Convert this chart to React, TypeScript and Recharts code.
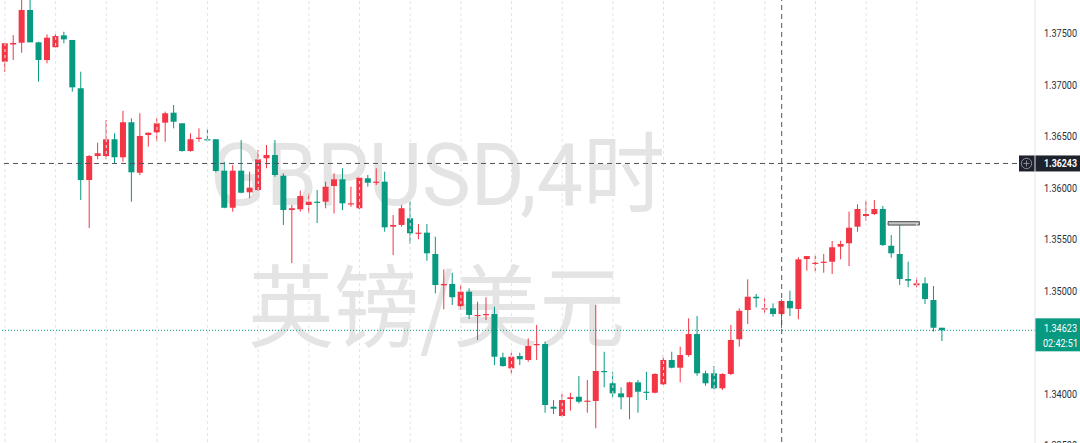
import React from 'react';
import { ComposedChart, Bar, XAxis, YAxis, ReferenceLine, ReferenceArea } from 'recharts';

// 4h candles, GBPUSD
const opens = [
  1.37231, 1.37398, 1.37415, 1.37733, 1.37419, 1.37247, 1.37371, 1.37487, 1.37442, 1.36973,
  1.36082, 1.36315, 1.36315, 1.36478, 1.36303, 1.36643, 1.36153, 1.36519, 1.36545, 1.36639,
  1.36736, 1.36633, 1.36364, 1.36487, 1.36478, 1.36478, 1.36173, 1.35813, 1.36173, 1.35963,
  1.35985, 1.36293, 1.36325, 1.36124, 1.35791, 1.35798, 1.35840, 1.35872, 1.35872, 1.36024,
  1.36089, 1.35846, 1.35808, 1.36099, 1.36056, 1.36066, 1.35629, 1.35646, 1.35711, 1.35565,
  1.35571, 1.35364, 1.35060, 1.35073, 1.34859, 1.34998, 1.34765, 1.34772, 1.34781, 1.34361,
  1.34254, 1.34374, 1.34335, 1.34483, 1.34490, 1.33881, 1.33791, 1.33956, 1.33978, 1.33930,
  1.33937, 1.34228, 1.34109, 1.34011, 1.33973, 1.34118, 1.34027, 1.34017, 1.34099, 1.34335,
  1.34260, 1.34383, 1.34587, 1.34206, 1.34206, 1.34060, 1.34199, 1.34536, 1.34820, 1.34949,
  1.34830, 1.34837, 1.34781, 1.34908, 1.34830, 1.35315, 1.35270, 1.35283, 1.35289, 1.35435,
  1.35468, 1.35629, 1.35733, 1.35752, 1.35801, 1.35444, 1.35364, 1.35121, 1.35060, 1.35079,
  1.34917, 1.34648,
];
const highs = [
  1.37415, 1.37490, 1.37859, 1.37879, 1.37425, 1.37497, 1.37497, 1.37522, 1.37442, 1.37134,
  1.36325, 1.36445, 1.36665, 1.36536, 1.36755, 1.36681, 1.36730, 1.36542, 1.36681, 1.36746,
  1.36811, 1.36633, 1.36536, 1.36584, 1.36584, 1.36478, 1.36260, 1.36228, 1.36471, 1.36163,
  1.36374, 1.36422, 1.36471, 1.36147, 1.35840, 1.35979, 1.35953, 1.35985, 1.36066, 1.36147,
  1.36196, 1.36017, 1.36121, 1.36131, 1.36196, 1.36163, 1.35743, 1.35840, 1.35872, 1.35655,
  1.35655, 1.35532, 1.35215, 1.35182, 1.35063, 1.35031, 1.34901, 1.34944, 1.34852, 1.34406,
  1.34406, 1.34406, 1.34545, 1.34675, 1.34512, 1.33946, 1.34005, 1.34017, 1.34179, 1.34141,
  1.34869, 1.34415, 1.34221, 1.34070, 1.34124, 1.34141, 1.34221, 1.34206, 1.34383, 1.34415,
  1.34464, 1.34740, 1.34762, 1.34231, 1.34277, 1.34206, 1.34675, 1.34837, 1.35118, 1.34976,
  1.34934, 1.34885, 1.34924, 1.35008, 1.35332, 1.35344, 1.35354, 1.35364, 1.35490, 1.35493,
  1.35775, 1.35846, 1.35881, 1.35888, 1.35830, 1.35548, 1.35646, 1.35289, 1.35138, 1.35138,
  1.35053, 1.34648,
];
const lows = [
  1.37134, 1.37247, 1.37318, 1.37419, 1.37037, 1.37215, 1.37371, 1.37410, 1.36940, 1.35888,
  1.35616, 1.36283, 1.36283, 1.36244, 1.36260, 1.35872, 1.36131, 1.36406, 1.36454, 1.36454,
  1.36584, 1.36357, 1.36357, 1.36454, 1.36454, 1.36157, 1.35808, 1.35775, 1.35953, 1.35905,
  1.35978, 1.36196, 1.36114, 1.35646, 1.35277, 1.35775, 1.35759, 1.35665, 1.35808, 1.35759,
  1.35791, 1.35823, 1.35798, 1.36017, 1.36034, 1.35580, 1.35354, 1.35629, 1.35461, 1.35507,
  1.35299, 1.34982, 1.34827, 1.34869, 1.34820, 1.34733, 1.34529, 1.34723, 1.34286, 1.34270,
  1.34199, 1.34286, 1.34318, 1.34335, 1.33823, 1.33810, 1.33784, 1.33843, 1.33914, 1.33823,
  1.33672, 1.34070, 1.33973, 1.33856, 1.33759, 1.33823, 1.33946, 1.34011, 1.34092, 1.34254,
  1.34118, 1.34367, 1.34182, 1.34085, 1.34050, 1.34044, 1.34189, 1.34464, 1.34684, 1.34846,
  1.34794, 1.34755, 1.34643, 1.34762, 1.34730, 1.35202, 1.35192, 1.35182, 1.35170, 1.35312,
  1.35247, 1.35580, 1.35687, 1.35743, 1.35442, 1.35328, 1.35063, 1.35041, 1.35041, 1.34878,
  1.34610, 1.34519,
];
const closes = [
  1.37410, 1.37413, 1.37733, 1.37419, 1.37247, 1.37464, 1.37480, 1.37448, 1.36982, 1.36082,
  1.36315, 1.36342, 1.36478, 1.36303, 1.36643, 1.36157, 1.36510, 1.36542, 1.36633, 1.36730,
  1.36648, 1.36364, 1.36478, 1.36493, 1.36471, 1.36170, 1.35813, 1.36173, 1.35959, 1.36008,
  1.36283, 1.36325, 1.36131, 1.35791, 1.35808, 1.35927, 1.35872, 1.35866, 1.36017, 1.36089,
  1.35856, 1.35856, 1.36105, 1.36056, 1.36066, 1.35623, 1.35646, 1.35808, 1.35565, 1.35571,
  1.35371, 1.35063, 1.35073, 1.34944, 1.34998, 1.34772, 1.34772, 1.34781, 1.34367, 1.34276,
  1.34367, 1.34342, 1.34471, 1.34490, 1.33898, 1.33862, 1.33946, 1.33973, 1.33930, 1.33940,
  1.34228, 1.34218, 1.34011, 1.33973, 1.34118, 1.34027, 1.34017, 1.34199, 1.34335, 1.34260,
  1.34383, 1.34587, 1.34206, 1.34109, 1.34060, 1.34199, 1.34529, 1.34813, 1.34949, 1.34934,
  1.34837, 1.34781, 1.34908, 1.34837, 1.35312, 1.35344, 1.35279, 1.35289, 1.35429, 1.35461,
  1.35619, 1.35801, 1.35752, 1.35801, 1.35451, 1.35371, 1.35121, 1.35105, 1.35079, 1.34927,
  1.34648, 1.34623,
];

// price ticks shown on the right scale (1.34500 is hidden behind the last-price tag)
const priceTicks = [1.335, 1.34, 1.35, 1.355, 1.36, 1.365, 1.37, 1.375];
const priceTickLabels = ['1.33500', '1.34000', '1.35000', '1.35500', '1.36000', '1.36500', '1.37000', '1.37500'];
const dayGridIndex = [0, 6, 12, 18, 24, 30, 36, 42, 48, 54, 60, 66, 72, 78, 84, 90, 96, 102, 108];
const crosshair = { index: 92, price: 1.36243, label: '1.36243' };
const lastPrice = { price: 1.34623, label: '1.34623', countdown: '02:42:51' };
const drawnBox = { x1: 104.6, x2: 108.3, y1: 1.35645, y2: 1.35678 };
const watermarkTitle = 'GBPUSD,4时';
const watermarkName = '英镑/美元';

const UP = '#F23645';
const DOWN = '#089981';

const data = opens.map((o, i) => ({
  i,
  open: o,
  high: highs[i],
  low: lows[i],
  close: closes[i],
  range: [lows[i], highs[i]],
}));

const Candle = (props: any) => {
  const { x, y, width, height, payload } = props;
  if (!payload) return null;
  const { open, close, high, low } = payload;
  const top = Math.min(y, y + height);
  const h = Math.abs(height);
  const span = high - low || 1e-9;
  const yOf = (v: number) => top + ((high - v) / span) * h;
  const cx = x + width / 2;
  const color = close >= open ? UP : DOWN;
  const bTop = yOf(Math.max(open, close));
  const bBot = yOf(Math.min(open, close));
  const bw = 6;
  return (
    <g>
      <rect x={cx - 0.5} y={top} width={1} height={Math.max(h, 1)} fill={color} />
      <rect x={cx - bw / 2} y={bTop} width={bw} height={Math.max(bBot - bTop, 1.2)} fill={color} />
    </g>
  );
};

const PriceTick = (props: any) => {
  const { x, y, payload } = props;
  const idx = priceTicks.findIndex((t) => Math.abs(t - payload.value) < 1e-7);
  const label = idx >= 0 ? priceTickLabels[idx] : String(payload.value);
  return (
    <text x={x + 1} y={y} dy="0.35em" textAnchor="start" fontSize={10} fill="#2a2e39"
      fontFamily="Roboto, 'Liberation Sans', sans-serif" textLength={33} lengthAdjust="spacingAndGlyphs">
      {label}
    </text>
  );
};

const CrossTag = (props: any) => {
  const vb = props.viewBox || {};
  const right = vb.x + vb.width;
  const y = vb.y;
  return (
    <g>
      <rect x={right - 16} y={y - 8} width={61} height={16} fill="#1e222d" />
      <circle cx={right - 8.5} cy={y} r={5.2} fill="none" stroke="#8c8f99" strokeWidth={1} />
      <line x1={right - 11.5} x2={right - 5.5} y1={y} y2={y} stroke="#8c8f99" strokeWidth={1} />
      <line x1={right - 8.5} x2={right - 8.5} y1={y - 3} y2={y + 3} stroke="#8c8f99" strokeWidth={1} />
      <text x={right + 9} y={y} dy="0.35em" fontSize={10} fontWeight={700} fill="#ffffff"
        fontFamily="Roboto, 'Liberation Sans', sans-serif" textLength={33} lengthAdjust="spacingAndGlyphs">
        {crosshair.label}
      </text>
    </g>
  );
};

const LastTag = (props: any) => {
  const vb = props.viewBox || {};
  const right = vb.x + vb.width;
  const y = vb.y;
  return (
    <g>
      <rect x={right} y={y - 12} width={45} height={33} fill={DOWN} />
      <text x={right + 9} y={y - 2} dy="0.35em" fontSize={10} fill="#ffffff"
        fontFamily="Roboto, 'Liberation Sans', sans-serif" textLength={33} lengthAdjust="spacingAndGlyphs">
        {lastPrice.label}
      </text>
      <text x={right + 8} y={y + 13} dy="0.35em" fontSize={10} fill="#ffffff"
        fontFamily="Roboto, 'Liberation Sans', sans-serif" textLength={35} lengthAdjust="spacingAndGlyphs">
        {lastPrice.countdown}
      </text>
    </g>
  );
};

export default function App() {
  return (
    <div style={{ position: 'fixed', left: 0, top: 0, width: 1080, height: 443, overflow: 'hidden', background: '#ffffff' }}>
      <svg width={1080} height={443} style={{ position: 'absolute', left: 0, top: 0 }}>
        <text x={210} y={205} fontSize={88} fill="#e4e4e4"
          fontFamily="Roboto, 'Noto Sans CJK SC', sans-serif" textLength={455} lengthAdjust="spacingAndGlyphs">
          {watermarkTitle}
        </text>
        <text x={248} y={340} fontSize={90} fill="#e4e4e4"
          fontFamily="'Noto Sans CJK SC', sans-serif" textLength={377} lengthAdjust="spacingAndGlyphs">
          {watermarkName}
        </text>
      </svg>
      <div style={{ position: 'absolute', left: 0, top: 0 }}>
        <ComposedChart width={1080} height={460} data={data} margin={{ top: 0, right: 0, bottom: 0, left: 0 }}>
          <XAxis dataKey="i" type="number" domain={[-0.59, 122]} hide allowDataOverflow />
          <YAxis orientation="right" width={45} domain={[1.33364, 1.3783]} allowDataOverflow
            ticks={priceTicks} tick={<PriceTick />} tickLine={false} axisLine={{ stroke: '#e0e3eb' }}
            interval={0} />
          {dayGridIndex.map((g) => (
            <ReferenceLine key={g} x={g} stroke="#e3e3e3" strokeDasharray="3 3" />
          ))}
          <ReferenceLine x={crosshair.index} stroke="#50535e" strokeDasharray="5 4" />
          <ReferenceArea x1={drawnBox.x1} x2={drawnBox.x2} y1={drawnBox.y1} y2={drawnBox.y2}
            fill="#c4c4c4" fillOpacity={1} stroke="#4a4a4a" strokeWidth={1} />
          <Bar dataKey="range" barSize={6} shape={<Candle />} isAnimationActive={false} />
          <ReferenceLine y={lastPrice.price} stroke={DOWN} strokeDasharray="1 2" label={<LastTag />} />
          <ReferenceLine y={crosshair.price} stroke="#50535e" strokeDasharray="5 4" label={<CrossTag />} />
        </ComposedChart>
      </div>
    </div>
  );
}
